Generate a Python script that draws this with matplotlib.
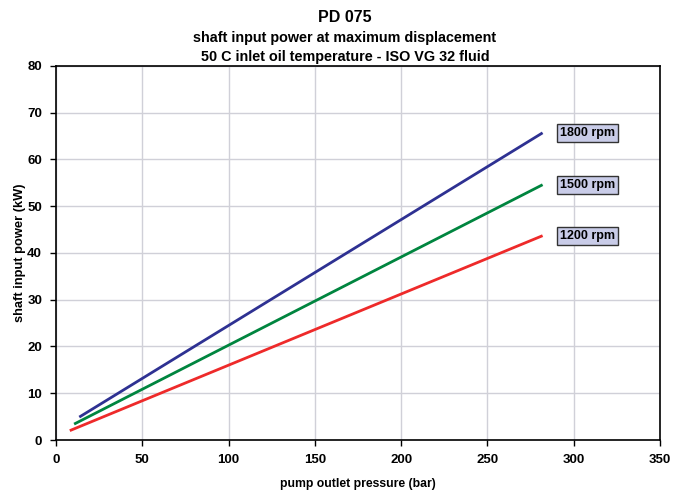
import matplotlib
matplotlib.use("Agg")
import matplotlib.pyplot as plt

plt.rcParams['font.family'] = ['Liberation Sans', 'DejaVu Sans']
plt.rcParams['font.weight'] = 'bold'

# pump outlet pressure (bar) vs shaft input power (kW)
speeds = ['1800 rpm', '1500 rpm', '1200 rpm']
colors = ['#2E3192', '#00853F', '#EE2A2A']
pressure_1800 = [13.5, 282]
power_1800 = [4.9, 65.7]
pressure_1500 = [10.5, 282]
power_1500 = [3.4, 54.6]
pressure_1200 = [8, 282]
power_1200 = [2.0, 43.7]
label_x = 308

series = [(pressure_1800, power_1800), (pressure_1500, power_1500), (pressure_1200, power_1200)]

fig = plt.figure(figsize=(6.86, 4.96), dpi=100)
ax = fig.add_axes([0.0816, 0.1129, 0.8804, 0.7541])

for (px, py), name, c in zip(series, speeds, colors):
    ax.plot(px, py, color=c, linewidth=2, solid_capstyle='butt')
    ax.text(label_x, py[-1], name, ha='center', va='center', fontsize=9, fontweight='bold',
            bbox=dict(boxstyle='square,pad=0.25', facecolor='#C9CCE8', edgecolor='#333333', linewidth=1))

ax.set_xlim(0, 350)
ax.set_ylim(0, 80)
ax.set_xticks(range(0, 351, 50))
ax.set_yticks(range(0, 81, 10))
ax.grid(True, color='#D0D0D8', linewidth=1)
ax.set_axisbelow(True)
ax.tick_params(direction='out', length=4, width=1, labelsize=9.5, pad=6)
for s in ax.spines.values():
    s.set_linewidth(1.2)
    s.set_color('black')

ax.set_xlabel('pump outlet pressure (bar)', fontsize=8.8, fontweight='bold', labelpad=9)
ax.set_ylabel('shaft input power (kW)', fontsize=9.3, fontweight='bold', labelpad=1)

fig.text(0.503, 0.965, 'PD 075', ha='center', va='center', fontsize=11.5, fontweight='bold')
fig.text(0.503, 0.924, 'shaft input power at maximum displacement', ha='center', va='center', fontsize=10.4, fontweight='bold')
fig.text(0.503, 0.886, '50 C inlet oil temperature - ISO VG 32 fluid', ha='center', va='center', fontsize=10.4, fontweight='bold')

fig.savefig('out.png', dpi=100)
